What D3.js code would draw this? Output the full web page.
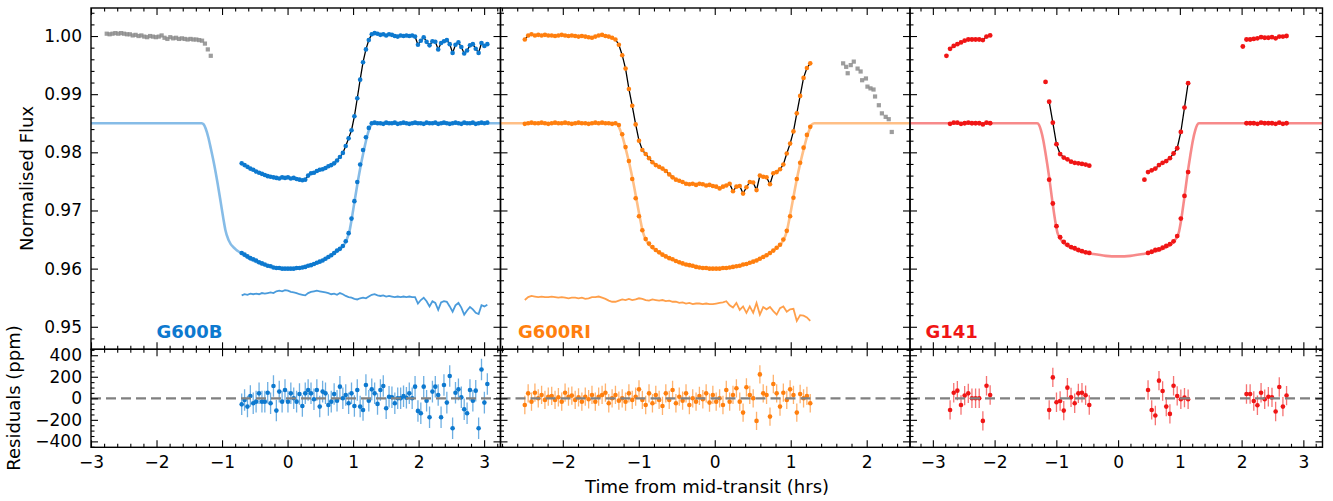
<!DOCTYPE html>
<html><head><meta charset="utf-8">
<script src="https://cdn.jsdelivr.net/npm/d3@7"></script>
<style>body{margin:0;background:#fff}svg{display:block}</style>
</head><body><svg id="c" width="1333" height="501"></svg>
<script>
// ---------------- DATA ----------------
const modelTimes = [-3.40,-1.31,-1.28,-1.25,-1.21,-1.17,-1.12,-1.07,-1.02,-0.98,-0.95,-0.90,-0.80,-0.70,-0.55,-0.40,-0.20,0.00,0.20,0.40,0.55,0.70,0.80,0.90,0.95,0.98,1.02,1.07,1.12,1.17,1.21,1.25,1.28,1.31,3.40];
const g600bModel = [0.9850,0.9850,0.9848,0.9841,0.9826,0.9806,0.9779,0.9748,0.9714,0.9686,0.9667,0.9649,0.9634,0.9626,0.9615,0.9608,0.9602,0.9600,0.9602,0.9608,0.9615,0.9626,0.9634,0.9649,0.9667,0.9686,0.9714,0.9748,0.9779,0.9806,0.9826,0.9841,0.9848,0.9850,0.9850];
const g600riModel = [0.9850,0.9850,0.9848,0.9840,0.9825,0.9805,0.9778,0.9747,0.9712,0.9684,0.9665,0.9648,0.9634,0.9625,0.9615,0.9607,0.9602,0.9600,0.9602,0.9607,0.9615,0.9625,0.9634,0.9648,0.9665,0.9684,0.9712,0.9747,0.9778,0.9805,0.9825,0.9840,0.9848,0.9850,0.9850];
const g141Model = [0.9850,0.9850,0.9847,0.9838,0.9820,0.9795,0.9760,0.9720,0.9683,0.9661,0.9654,0.9646,0.9638,0.9633,0.9628,0.9625,0.9622,0.9621,0.9622,0.9625,0.9628,0.9633,0.9638,0.9646,0.9654,0.9661,0.9683,0.9720,0.9760,0.9795,0.9820,0.9838,0.9847,0.9850,0.9850];

// G600B
const g600bTimes = [-0.700,-0.656,-0.612,-0.568,-0.524,-0.480,-0.435,-0.391,-0.347,-0.303,
 -0.259,-0.215,-0.171,-0.127,-0.083,-0.039,0.006,0.050,0.094,0.138,
 0.182,0.226,0.270,0.314,0.358,0.403,0.447,0.491,0.535,0.579,
 0.623,0.667,0.711,0.755,0.799,0.844,0.888,0.932,0.976,1.020,
 1.064,1.108,1.152,1.196,1.240,1.285,1.329,1.373,1.417,1.461,
 1.505,1.549,1.593,1.637,1.681,1.726,1.770,1.814,1.858,1.902,
 1.946,1.990,2.034,2.078,2.122,2.167,2.211,2.255,2.299,2.343,
 2.387,2.431,2.475,2.519,2.563,2.608,2.652,2.696,2.740,2.784,
 2.828,2.872,2.916,2.960,3.004,3.049];
const g600bRaw = [0.9781,0.9778,0.9775,0.9772,0.9770,0.9767,0.9765,0.9763,0.9761,0.9759,
 0.9758,0.9757,0.9756,0.9755,0.9757,0.9756,0.9757,0.9755,0.9756,0.9754,
 0.9753,0.9752,0.9753,0.9760,0.9764,0.9765,0.9768,0.9770,0.9771,0.9773,
 0.9776,0.9778,0.9781,0.9786,0.9792,0.9799,0.9811,0.9824,0.9838,0.9862,
 0.9893,0.9925,0.9955,0.9977,0.9993,1.0003,1.0005,1.0004,1.0002,1.0003,
 1.0001,1.0003,1.0002,1.0000,0.9999,1.0001,1.0000,1.0001,1.0000,1.0001,
 0.9999,0.9985,0.9992,0.9998,0.9990,0.9984,0.9991,0.9990,0.9977,0.9988,
 0.9991,0.9993,0.9986,0.9971,0.9985,0.9989,0.9981,0.9970,0.9975,0.9984,
 0.9986,0.9978,0.9971,0.9988,0.9983,0.9986];
const g600bDetrended = [0.9627,0.9624,0.9621,0.9618,0.9616,0.9614,0.9611,0.9609,0.9607,0.9605,
 0.9604,0.9602,0.9601,0.9601,0.9600,0.9600,0.9600,0.9600,0.9600,0.9601,
 0.9601,0.9602,0.9603,0.9605,0.9606,0.9608,0.9610,0.9612,0.9614,0.9617,
 0.9620,0.9623,0.9627,0.9631,0.9634,0.9639,0.9647,0.9661,0.9686,0.9716,
 0.9749,0.9779,0.9804,0.9826,0.9842,0.9850,0.9851,0.9850,0.9850,0.9849,
 0.9851,0.9850,0.9850,0.9851,0.9849,0.9850,0.9851,0.9850,0.9849,0.9850,
 0.9851,0.9850,0.9850,0.9849,0.9851,0.9850,0.9850,0.9851,0.9849,0.9850,
 0.9851,0.9850,0.9849,0.9850,0.9851,0.9850,0.9849,0.9851,0.9850,0.9850,
 0.9851,0.9849,0.9850,0.9851,0.9850,0.9851];
const g600bResidLine = [0.9554,0.9556,0.9555,0.9557,0.9556,0.9557,0.9556,0.9558,0.9557,0.9558,
 0.9559,0.9558,0.9561,0.9562,0.9561,0.9563,0.9562,0.9560,0.9559,0.9558,
 0.9556,0.9555,0.9554,0.9558,0.9560,0.9561,0.9562,0.9561,0.9560,0.9559,
 0.9558,0.9556,0.9557,0.9555,0.9558,0.9556,0.9553,0.9551,0.9550,0.9548,
 0.9547,0.9549,0.9550,0.9549,0.9552,0.9555,0.9556,0.9554,0.9553,0.9554,
 0.9552,0.9553,0.9552,0.9551,0.9552,0.9551,0.9552,0.9551,0.9552,0.9551,
 0.9551,0.9540,0.9546,0.9550,0.9544,0.9535,0.9544,0.9541,0.9529,0.9542,
 0.9544,0.9543,0.9535,0.9526,0.9537,0.9541,0.9533,0.9521,0.9528,0.9534,
 0.9530,0.9524,0.9522,0.9537,0.9535,0.9538];
const g600bResidPpm = [-56,-15,-77,22,-46,-31,46,-31,-31,52,
 -46,114,-114,62,-31,77,-31,46,0,-31,
 40,-71,46,77,46,-9,77,-77,62,46,
 -62,-31,40,-22,108,0,31,-46,46,-71,
 77,-77,-108,123,-22,83,46,-52,77,114,
 -93,15,10,-46,0,0,20,5,46,0,
 108,-117,-139,108,-22,-176,62,108,31,-176,
 123,-40,207,-278,52,83,9,-102,-139,77,
 -22,71,-278,268,-40,133];
const g600bErrPpm = 100;
const g600bGreyTimes = [-2.760,-2.716,-2.672,-2.628,-2.584,-2.540,-2.495,-2.451,-2.407,-2.363,
 -2.319,-2.275,-2.231,-2.187,-2.143,-2.099,-2.054,-2.010,-1.966,-1.922,
 -1.878,-1.834,-1.790,-1.746,-1.702,-1.658,-1.613,-1.569,-1.525,-1.481,
 -1.437,-1.393,-1.349,-1.305,-1.261,-1.217,-1.172];
const g600bGrey = [1.0004,1.0003,1.0004,1.0005,1.0004,1.0005,1.0004,1.0003,1.0003,1.0001,
 1.0002,1.0000,1.0001,0.9999,0.9998,1.0000,0.9999,0.9998,0.9999,1.0001,
 0.9997,0.9995,0.9998,0.9996,0.9997,0.9995,0.9996,0.9995,0.9994,0.9995,
 0.9994,0.9994,0.9993,0.9992,0.9987,0.9977,0.9966];

// G600RI
const g600riTimes = [-2.500,-2.456,-2.412,-2.367,-2.323,-2.279,-2.235,-2.191,-2.146,-2.102,
 -2.058,-2.014,-1.970,-1.925,-1.881,-1.837,-1.793,-1.749,-1.704,-1.660,
 -1.616,-1.572,-1.528,-1.483,-1.439,-1.395,-1.351,-1.307,-1.262,-1.218,
 -1.174,-1.130,-1.086,-1.041,-0.997,-0.953,-0.909,-0.865,-0.820,-0.776,
 -0.732,-0.688,-0.644,-0.599,-0.555,-0.511,-0.467,-0.423,-0.378,-0.334,
 -0.290,-0.246,-0.202,-0.157,-0.113,-0.069,-0.025,0.019,0.064,0.108,
 0.152,0.196,0.240,0.285,0.329,0.373,0.417,0.461,0.506,0.550,
 0.594,0.638,0.682,0.727,0.771,0.815,0.859,0.903,0.948,0.992,
 1.036,1.080,1.124,1.169,1.213,1.257];
const g600riRaw = [0.9994,1.0001,1.0003,1.0001,1.0002,1.0001,1.0002,1.0001,1.0001,1.0000,
 1.0001,1.0002,1.0001,1.0000,1.0001,1.0000,0.9999,1.0000,0.9999,0.9998,
 0.9997,0.9999,1.0001,1.0002,1.0000,0.9999,0.9997,0.9994,0.9985,0.9967,
 0.9944,0.9909,0.9880,0.9848,0.9820,0.9804,0.9797,0.9790,0.9783,0.9778,
 0.9775,0.9772,0.9768,0.9762,0.9757,0.9753,0.9751,0.9749,0.9746,0.9745,
 0.9746,0.9744,0.9746,0.9745,0.9743,0.9744,0.9742,0.9741,0.9738,0.9741,
 0.9743,0.9746,0.9733,0.9741,0.9742,0.9729,0.9740,0.9749,0.9748,0.9735,
 0.9760,0.9758,0.9757,0.9745,0.9764,0.9766,0.9771,0.9779,0.9798,0.9815,
 0.9836,0.9867,0.9897,0.9928,0.9945,0.9953];
const g600riDetrended = [0.9849,0.9850,0.9851,0.9850,0.9850,0.9851,0.9850,0.9849,0.9850,0.9851,
 0.9850,0.9850,0.9851,0.9850,0.9849,0.9850,0.9851,0.9850,0.9850,0.9849,
 0.9850,0.9851,0.9850,0.9851,0.9850,0.9850,0.9849,0.9850,0.9847,0.9831,
 0.9809,0.9785,0.9754,0.9721,0.9690,0.9666,0.9651,0.9643,0.9637,0.9632,
 0.9628,0.9624,0.9621,0.9618,0.9616,0.9613,0.9611,0.9609,0.9607,0.9606,
 0.9605,0.9603,0.9602,0.9601,0.9601,0.9600,0.9600,0.9600,0.9600,0.9601,
 0.9601,0.9602,0.9603,0.9604,0.9605,0.9607,0.9608,0.9610,0.9612,0.9614,
 0.9617,0.9620,0.9623,0.9627,0.9631,0.9636,0.9641,0.9650,0.9665,0.9690,
 0.9722,0.9754,0.9782,0.9808,0.9830,0.9844];
const g600riResidLine = [0.9546,0.9551,0.9553,0.9552,0.9551,0.9552,0.9551,0.9551,0.9552,0.9551,
 0.9550,0.9551,0.9550,0.9549,0.9550,0.9550,0.9549,0.9550,0.9548,0.9549,
 0.9551,0.9551,0.9552,0.9550,0.9548,0.9545,0.9543,0.9543,0.9545,0.9547,
 0.9546,0.9548,0.9546,0.9547,0.9549,0.9548,0.9546,0.9545,0.9547,0.9546,
 0.9545,0.9546,0.9544,0.9545,0.9543,0.9543,0.9541,0.9542,0.9540,0.9541,
 0.9539,0.9540,0.9540,0.9539,0.9540,0.9539,0.9539,0.9540,0.9541,0.9542,
 0.9544,0.9537,0.9533,0.9541,0.9529,0.9535,0.9524,0.9535,0.9524,0.9541,
 0.9521,0.9534,0.9530,0.9534,0.9527,0.9521,0.9532,0.9535,0.9526,0.9530,
 0.9531,0.9510,0.9520,0.9519,0.9516,0.9510];
const g600riResidPpm = [-62,46,-31,52,0,31,-15,15,22,-15,
 10,-31,52,15,25,-15,9,-31,15,-9,
 31,-31,15,31,52,-46,0,31,-22,0,
 -31,46,-15,15,83,-15,-62,46,-46,31,
 -15,-71,46,-15,77,-46,15,-22,46,-62,
 0,-31,22,-9,46,-40,31,-31,0,-62,
 77,-31,31,93,-31,-133,102,31,0,-210,
 222,46,31,-170,133,46,-77,52,-15,83,
 31,-133,40,0,22,-46];
const g600riErrPpm = 85;
const g600riGreyTimes = [1.69,1.73,1.75,1.79,1.83,1.88,1.92,1.94,1.99,2.01,2.05,2.09,2.11,2.16,2.20,2.25,2.29,2.33];
const g600riGrey = [0.9953,0.9947,0.9936,0.9950,0.9956,0.9944,0.9939,0.9924,0.9927,0.9913,0.9910,0.9908,0.9896,0.9881,0.9867,0.9861,0.9857,0.9835];

// G141 (four HST orbits; first exposure of each orbit not fitted)
const g141TimesByOrbit = [
 [-2.780,-2.721,-2.662,-2.603,-2.544,-2.485,-2.426,-2.367,-2.308,-2.249,-2.190,-2.131,-2.072],
 [-1.175,-1.116,-1.057,-0.998,-0.939,-0.880,-0.821,-0.762,-0.703,-0.644,-0.585,-0.526,-0.467],
 [0.426,0.485,0.544,0.603,0.662,0.721,0.780,0.839,0.898,0.957,1.016,1.075,1.134],
 [2.020,2.079,2.138,2.197,2.256,2.315,2.374,2.433,2.492,2.551,2.610,2.669,2.728]];
const g141RawByOrbit = [
 [0.9966,0.9978,0.9983,0.9986,0.9989,0.9992,0.9994,0.9994,0.9994,0.9994,0.9993,0.9999,1.0001],
 [0.9921,0.9887,0.9851,0.9814,0.9797,0.9791,0.9788,0.9784,0.9782,0.9781,0.9780,0.9779,0.9777],
 [0.9753,0.9766,0.9769,0.9772,0.9778,0.9782,0.9785,0.9790,0.9798,0.9807,0.9835,0.9877,0.9919],
 [0.9982,0.9994,0.9994,0.9995,0.9996,0.9998,0.9997,0.9997,0.9998,0.9996,0.9999,0.9999,1.0000]];
const g141DetrendedByOrbit = [
 [0.9849,0.9851,0.9851,0.9849,0.9850,0.9851,0.9850,0.9850,0.9850,0.9848,0.9851,0.9850],
 [0.9753,0.9712,0.9673,0.9654,0.9646,0.9641,0.9637,0.9635,0.9632,0.9630,0.9628,0.9627],
 [0.9627,0.9629,0.9632,0.9633,0.9636,0.9639,0.9642,0.9647,0.9656,0.9686,0.9725,0.9766],
 [0.9850,0.9850,0.9850,0.9849,0.9851,0.9850,0.9850,0.9850,0.9849,0.9851,0.9849,0.9850]];
const g141ResidPpmByOrbit = [
 [-108,52,71,-62,25,46,0,0,0,-210,117,31],
 [-108,194,-37,-25,-114,99,9,-46,46,52,28,-62],
 [77,-108,-160,164,68,-77,-145,117,22,-9,6,-9],
 [40,40,-25,-65,52,-9,15,9,-123,105,-77,25]];
const g141ErrPpm = 90;

const panelNames = ["G600B", "G600RI", "G141"];
const fluxTicks = [0.95, 0.96, 0.97, 0.98, 0.99, 1.00];
const residTicks = [-400, -200, 0, 200, 400];

// ---------------- LAYOUT / STYLE ----------------
const BLUE = "#0d79cf", ORANGE = "#ff7f0e", RED = "#f01515";
const FONT = "DejaVu Sans, Verdana, sans-serif";
const TOP = 8, MID = 349.3, BOT = 447.3;
const yTop = d3.scaleLinear().domain([0.946127, 1.004819]).range([MID, TOP]);
const yRes = d3.scaleLinear().domain([-455, 455]).range([BOT, MID]);

const zip = (a, b) => a.map((t, i) => [t, b[i]]);
const fitPts = (vals) => g141TimesByOrbit.flatMap((ts, k) => ts.slice(1).map((t, i) => [t, vals[k][i]]));

const panels = [
 { name: panelNames[0], color: BLUE, left: 91, right: 500.5, domain: [-3.0, 3.25], labelX: 156.5,
   model: zip(modelTimes, g600bModel), raw: zip(g600bTimes, g600bRaw), lineSegs: [zip(g600bTimes, g600bRaw)],
   det: zip(g600bTimes, g600bDetrended), resLine: zip(g600bTimes, g600bResidLine),
   resid: zip(g600bTimes, g600bResidPpm), err: g600bErrPpm, grey: zip(g600bGreyTimes, g600bGrey), r: 2.3 },
 { name: panelNames[1], color: ORANGE, left: 500.5, right: 910, domain: [-2.82, 2.57], labelX: 518,
   model: zip(modelTimes, g600riModel), raw: zip(g600riTimes, g600riRaw), lineSegs: [zip(g600riTimes, g600riRaw)],
   det: zip(g600riTimes, g600riDetrended), resLine: zip(g600riTimes, g600riResidLine),
   resid: zip(g600riTimes, g600riResidPpm), err: g600riErrPpm, grey: zip(g600riGreyTimes, g600riGrey), r: 2.3 },
 { name: panelNames[2], color: RED, left: 910, right: 1322.5, domain: [-3.37, 3.31], labelX: 925.5,
   model: zip(modelTimes, g141Model),
   raw: g141TimesByOrbit.flatMap((ts, k) => zip(ts, g141RawByOrbit[k])),
   lineSegs: g141TimesByOrbit.map((ts, k) => zip(ts, g141RawByOrbit[k]).slice(1)),
   det: fitPts(g141DetrendedByOrbit), resLine: null,
   resid: fitPts(g141ResidPpmByOrbit), err: g141ErrPpm, grey: [], r: 2.4 }
];

const svg = d3.select("#c");
const defs = svg.append("defs");

function tickSets(scale, nMajor, nMinor) {
  const major = scale.ticks(nMajor);
  const step = major[1] - major[0];
  const minor = scale.ticks(nMinor).filter(v => Math.abs(v / step - Math.round(v / step)) > 1e-6);
  return { major, minor };
}
function axis(g, fn, scale, transform, vals, size, fmt, pad) {
  const a = fn(scale).tickValues(vals).tickSizeInner(-size).tickSizeOuter(0).tickPadding(pad || 8)
    .tickFormat(fmt || (() => ""));
  const gg = g.append("g").attr("transform", transform).call(a);
  gg.select(".domain").remove();
  gg.selectAll("line").attr("stroke", "#000").attr("stroke-width", 1.1);
  gg.selectAll("text").attr("font-size", 17).attr("font-family", FONT).attr("fill", "#000");
}

panels.forEach((p, k) => {
  const x = d3.scaleLinear().domain(p.domain).range([p.left, p.right]);
  const W = p.right - p.left;
  defs.append("clipPath").attr("id", "ct" + k).append("rect")
    .attr("x", p.left).attr("y", TOP).attr("width", W).attr("height", MID - TOP);
  defs.append("clipPath").attr("id", "cr" + k).append("rect")
    .attr("x", p.left).attr("y", MID).attr("width", W).attr("height", BOT - MID);

  // ---- top panel ----
  const gt = svg.append("g").attr("clip-path", `url(#ct${k})`);
  gt.selectAll("rect.grey").data(p.grey).join("rect").attr("class", "grey")
    .attr("x", d => x(d[0]) - 2.1).attr("y", d => yTop(d[1]) - 2.1)
    .attr("width", 4.2).attr("height", 4.2).attr("fill", "#8c8c8c").attr("opacity", 0.85);
  const lineT = d3.line().x(d => x(d[0])).y(d => yTop(d[1]));
  gt.append("path").attr("d", d3.line().curve(d3.curveMonotoneX).x(d => x(d[0])).y(d => yTop(d[1]))(p.model))
    .attr("fill", "none").attr("stroke", p.color).attr("stroke-opacity", 0.5).attr("stroke-width", 2.6);
  if (p.resLine) gt.append("path").attr("d", lineT(p.resLine)).attr("fill", "none")
    .attr("stroke", p.color).attr("stroke-opacity", 0.75).attr("stroke-width", 1.8);
  p.lineSegs.forEach(seg => gt.append("path").attr("d", lineT(seg)).attr("fill", "none")
    .attr("stroke", "#000").attr("stroke-width", 1.3));
  gt.selectAll("circle.raw").data(p.raw).join("circle").attr("class", "raw")
    .attr("cx", d => x(d[0])).attr("cy", d => yTop(d[1])).attr("r", p.r).attr("fill", p.color);
  gt.selectAll("circle.det").data(p.det).join("circle").attr("class", "det")
    .attr("cx", d => x(d[0])).attr("cy", d => yTop(d[1])).attr("r", p.r).attr("fill", p.color);

  // ---- residual panel ----
  const gr = svg.append("g").attr("clip-path", `url(#cr${k})`);
  gr.selectAll("line.eb").data(p.resid).join("line").attr("class", "eb")
    .attr("x1", d => x(d[0])).attr("x2", d => x(d[0]))
    .attr("y1", d => yRes(d[1] - p.err)).attr("y2", d => yRes(d[1] + p.err))
    .attr("stroke", p.color).attr("stroke-opacity", 0.6).attr("stroke-width", 1.3);
  gr.selectAll("circle.res").data(p.resid).join("circle").attr("class", "res")
    .attr("cx", d => x(d[0])).attr("cy", d => yRes(d[1])).attr("r", 2.3).attr("fill", p.color);
  gr.append("line").attr("x1", p.left).attr("x2", p.right).attr("y1", yRes(0)).attr("y2", yRes(0))
    .attr("stroke", "#808080").attr("stroke-width", 2.2).attr("stroke-dasharray", "10,5");

  // ---- axes ----
  const xt = tickSets(x, 6, 32);
  const yt = tickSets(yTop, 6, 30);
  const rt = tickSets(yRes, 5, 20);
  const g = svg.append("g");
  [[MID, TOP], [BOT, MID]].forEach(([b, t], j) => {
    const isRes = j === 1;
    axis(g, d3.axisBottom, x, `translate(0,${b})`, xt.major, 7, isRes ? d3.format("d") : null, 8.5);
    axis(g, d3.axisBottom, x, `translate(0,${b})`, xt.minor, 3.5);
    axis(g, d3.axisTop, x, `translate(0,${t})`, xt.major, 7);
    axis(g, d3.axisTop, x, `translate(0,${t})`, xt.minor, 3.5);
    const ys = isRes ? yRes : yTop, ts = isRes ? rt : yt;
    const fmt = k === 0 ? (isRes ? d3.format("d") : d3.format(".2f")) : null;
    const majorVals = isRes ? residTicks : fluxTicks;
    axis(g, d3.axisLeft, ys, `translate(${p.left},0)`, majorVals, 7, fmt, 9);
    axis(g, d3.axisLeft, ys, `translate(${p.left},0)`, ts.minor, 3.5);
    axis(g, d3.axisRight, ys, `translate(${p.right},0)`, majorVals, 7);
    axis(g, d3.axisRight, ys, `translate(${p.right},0)`, ts.minor, 3.5);
    g.append("rect").attr("x", p.left).attr("y", t).attr("width", W).attr("height", b - t)
      .attr("fill", "none").attr("stroke", "#000").attr("stroke-width", 1.4);
  });

  svg.append("text").attr("x", p.labelX).attr("y", 338).attr("font-family", FONT)
    .attr("font-weight", "bold").attr("font-size", 18).attr("fill", p.color).text(p.name);
});

svg.append("text").attr("transform", "translate(33,178.5) rotate(-90)").attr("text-anchor", "middle")
  .attr("font-family", FONT).attr("font-size", 18).text("Normalised Flux");
svg.append("text").attr("transform", "translate(20,398) rotate(-90)").attr("text-anchor", "middle")
  .attr("font-family", FONT).attr("font-size", 18).text("Residuals (ppm)");
svg.append("text").attr("x", 707).attr("y", 493).attr("text-anchor", "middle")
  .attr("font-family", FONT).attr("font-size", 18).text("Time from mid-transit (hrs)");
</script></body></html>
